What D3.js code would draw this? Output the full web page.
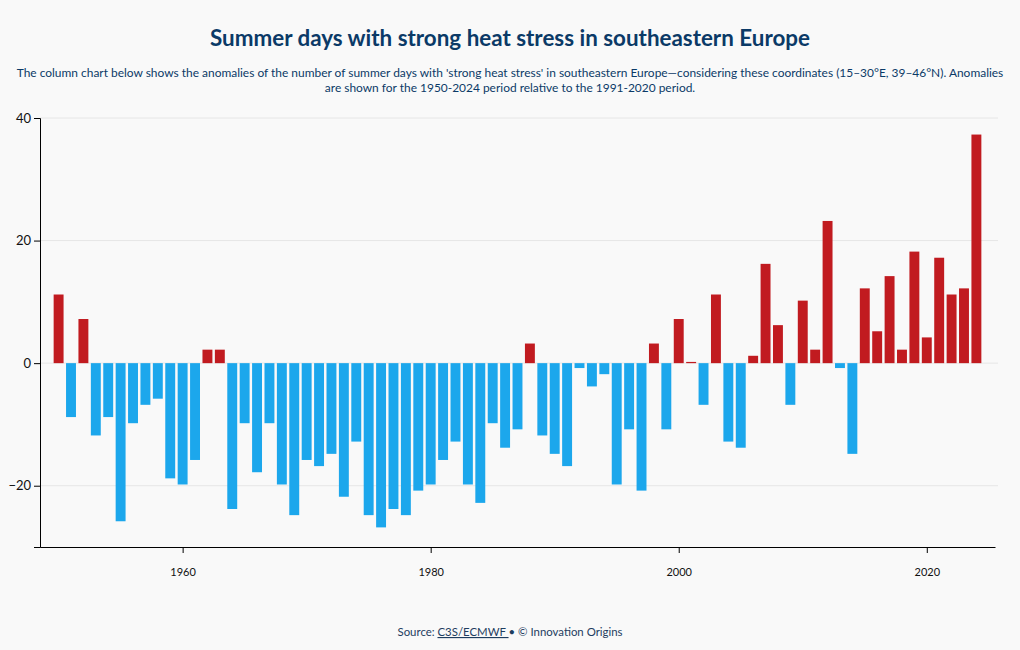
<!DOCTYPE html>
<html>
<head>
<meta charset="utf-8">
<script src="https://cdn.jsdelivr.net/npm/d3@7"></script>
<style>
  html, body { margin: 0; padding: 0; background: #f9f9f9; }
  svg { display: block; font-family: "Source Sans Pro", Lato, "Noto Sans", sans-serif; }
</style>
</head>
<body>
<svg id="chart" width="1020" height="650"></svg>
<script>
const years = d3.range(1950, 2025);
const anomalies = [
  11.2, -8.8, 7.2, -11.8, -8.8, -25.8, -9.8, -6.8, -5.8, -18.8,
  -19.8, -15.8, 2.2, 2.2, -23.8, -9.8, -17.8, -9.8, -19.8, -24.8,
  -15.8, -16.8, -14.8, -21.8, -12.8, -24.8, -26.8, -23.8, -24.8, -20.8,
  -19.8, -15.8, -12.8, -19.8, -22.8, -9.8, -13.8, -10.8, 3.2, -11.8,
  -14.8, -16.8, -0.8, -3.8, -1.8, -19.8, -10.8, -20.8, 3.2, -10.8,
  7.2, 0.2, -6.8, 11.2, -12.8, -13.8, 1.2, 16.2, 6.2, -6.8,
  10.2, 2.2, 23.2, -0.8, -14.8, 12.2, 5.2, 14.2, 2.2, 18.2,
  4.2, 17.2, 11.2, 12.2, 37.3
];
const yTicks = [-20, 0, 20, 40];
const xTicks = [1960, 1980, 2000, 2020];
const titleText = "Summer days with strong heat stress in southeastern Europe";
const subtitle1 = "The column chart below shows the anomalies of the number of summer days with 'strong heat stress' in southeastern Europe\u2014considering these coordinates (15\u201330\u00B0E, 39\u201346\u00B0N). Anomalies";
const subtitle2 = "are shown for the 1950-2024 period relative to the 1991-2020 period.";

const data = years.map((yr, i) => ({ year: yr, value: anomalies[i] }));

const svg = d3.select("#chart");
const W = 1020;
const mLeft = 40, mRight = 995, mTop = 118, mBottom = 547;

const x = d3.scaleLinear().domain([1948.5, 2025.5]).range([mLeft, mRight]);
const y = d3.scaleLinear().domain([-30, 40]).range([mBottom, mTop]);
const step = x(1951) - x(1950);
const bw = step * 0.8;

// title
svg.append("text").attr("x", W / 2).attr("y", 46).attr("text-anchor", "middle")
  .attr("font-size", 22.4).attr("font-weight", 700).attr("fill", "#0b3a67").text(titleText);
svg.append("text").attr("x", W / 2).attr("y", 77).attr("text-anchor", "middle")
  .attr("font-size", 11.95).attr("fill", "#0b3a67").text(subtitle1);
svg.append("text").attr("x", W / 2).attr("y", 92).attr("text-anchor", "middle")
  .attr("font-size", 11.95).attr("fill", "#0b3a67").text(subtitle2);

// gridlines
svg.append("g").selectAll("line").data(yTicks).join("line")
  .attr("x1", mLeft).attr("x2", mRight + 3)
  .attr("y1", d => y(d)).attr("y2", d => y(d))
  .attr("stroke", "#e6e6e6").attr("stroke-width", 1);

// bars
svg.append("g").selectAll("rect").data(data).join("rect")
  .attr("x", d => x(d.year) - bw / 2)
  .attr("width", bw)
  .attr("y", d => y(Math.max(0, d.value)))
  .attr("height", d => Math.abs(y(d.value) - y(0)))
  .attr("fill", d => d.value >= 0 ? "#c11b20" : "#1ca7ec");

// y axis
const yAxis = svg.append("g").attr("transform", `translate(${mLeft},0)`)
  .call(d3.axisLeft(y).tickValues(yTicks).tickSize(6).tickPadding(3));
yAxis.select(".domain").attr("stroke", "#000");
yAxis.selectAll("text").attr("font-size", 13).attr("fill", "#111")
  .style("font-family", "'Source Sans Pro', Lato, 'Noto Sans', sans-serif");

// x axis
const xAxis = svg.append("g").attr("transform", `translate(0,${mBottom})`)
  .call(d3.axisBottom(x).tickValues(xTicks).tickFormat(d3.format("d")).tickSize(6).tickSizeOuter(0).tickPadding(15));
xAxis.select(".domain").attr("stroke", "#000");
xAxis.selectAll("text").attr("font-size", 11).attr("fill", "#111")
  .style("font-family", "'Source Sans Pro', Lato, 'Noto Sans', sans-serif");

// footer
const foot = svg.append("text").attr("x", W / 2).attr("y", 636).attr("text-anchor", "middle")
  .attr("font-size", 11.4).attr("fill", "#1e3d5f");
foot.append("tspan").text("Source: ");
foot.append("tspan").attr("text-decoration", "underline").text("C3S/ECMWF ");
foot.append("tspan").text("\u2022 \u00A9 Innovation Origins");
</script>
</body>
</html>
